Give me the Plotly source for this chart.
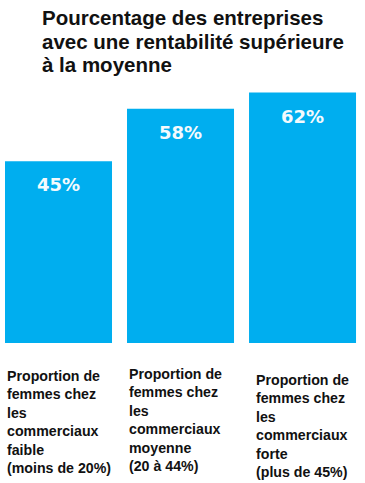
import plotly.graph_objects as go

categories = ["faible", "moyenne", "forte"]
values = [45, 58, 62]
value_labels = ["45%", "58%", "62%"]
category_labels = [
    "Proportion de<br>femmes chez<br>les<br>commerciaux<br>faible<br>(moins de 20%)",
    "Proportion de<br>femmes chez<br>les<br>commerciaux<br>moyenne<br>(20 à 44%)",
    "Proportion de<br>femmes chez<br>les<br>commerciaux<br>forte<br>(plus de 45%)",
]
title_lines = [
    "Pourcentage des entreprises",
    "avec une rentabilité supérieure",
    "à la moyenne",
]

W, H = 365, 483
BASE_PX = 343          # pixel row of the bar baseline
PX_PER_UNIT = 4.04     # pixels per percentage point
BAR_COLOR = "#00AEEF"
BARGAP = 0.123


def py_to_paper(py):
    return 1 - py / H


fig = go.Figure(
    go.Bar(
        x=categories,
        y=values,
        marker=dict(color=BAR_COLOR, line=dict(width=0)),
        hoverinfo="skip",
    )
)

annotations = []
# title lines
for i, line in enumerate(title_lines):
    baseline = 26.5 + i * 23.3
    annotations.append(dict(
        text="<b>%s</b>" % line, xref="paper", yref="paper",
        x=40 / W, y=py_to_paper(baseline + 5), xanchor="left", yanchor="bottom",
        showarrow=False,
        font=dict(family="Liberation Sans, Arial, sans-serif", size=20.5, color="#111111"),
    ))

# value labels inside bars
for c, v, t in zip(categories, values, value_labels):
    annotations.append(dict(
        text="<b>%s</b>" % t, xref="x", yref="y", x=c, y=v,
        xanchor="center", yanchor="top", yshift=-11, showarrow=False,
        font=dict(family="DejaVu Sans, sans-serif", size=18, color="#F4FAFD"),
    ))

# category labels below bars, left-aligned on each bar's left edge
half_bar = (1 - BARGAP) / 2
label_yshifts = [-23, -21, -27]
label_xshifts = [0, 0, 5]
for i, (t, ys, xs) in enumerate(zip(category_labels, label_yshifts, label_xshifts)):
    annotations.append(dict(
        text="<b>%s</b>" % t, xref="x", yref="y", x=i - half_bar, y=0,
        xanchor="left", yanchor="top", xshift=xs, yshift=ys, align="left",
        showarrow=False,
        font=dict(family="Liberation Sans, Arial, sans-serif", size=14.2, color="#111111"),
    ))

fig.update_layout(
    width=W, height=H,
    margin=dict(l=0, r=0, t=0, b=0),
    paper_bgcolor="white", plot_bgcolor="white",
    bargap=BARGAP,
    showlegend=False,
    annotations=annotations,
    xaxis=dict(range=[-0.4795, 2.512], showticklabels=False, showgrid=False,
               zeroline=False, showline=False, ticks=""),
    yaxis=dict(range=[-(H - BASE_PX) / PX_PER_UNIT, BASE_PX / PX_PER_UNIT],
               showticklabels=False, showgrid=False, zeroline=False,
               showline=False, ticks=""),
)

fig.write_html(
    "out.html",
    config={"displayModeBar": False},
    post_script="document.body.style.margin='0';document.body.style.overflow='hidden';",
)
